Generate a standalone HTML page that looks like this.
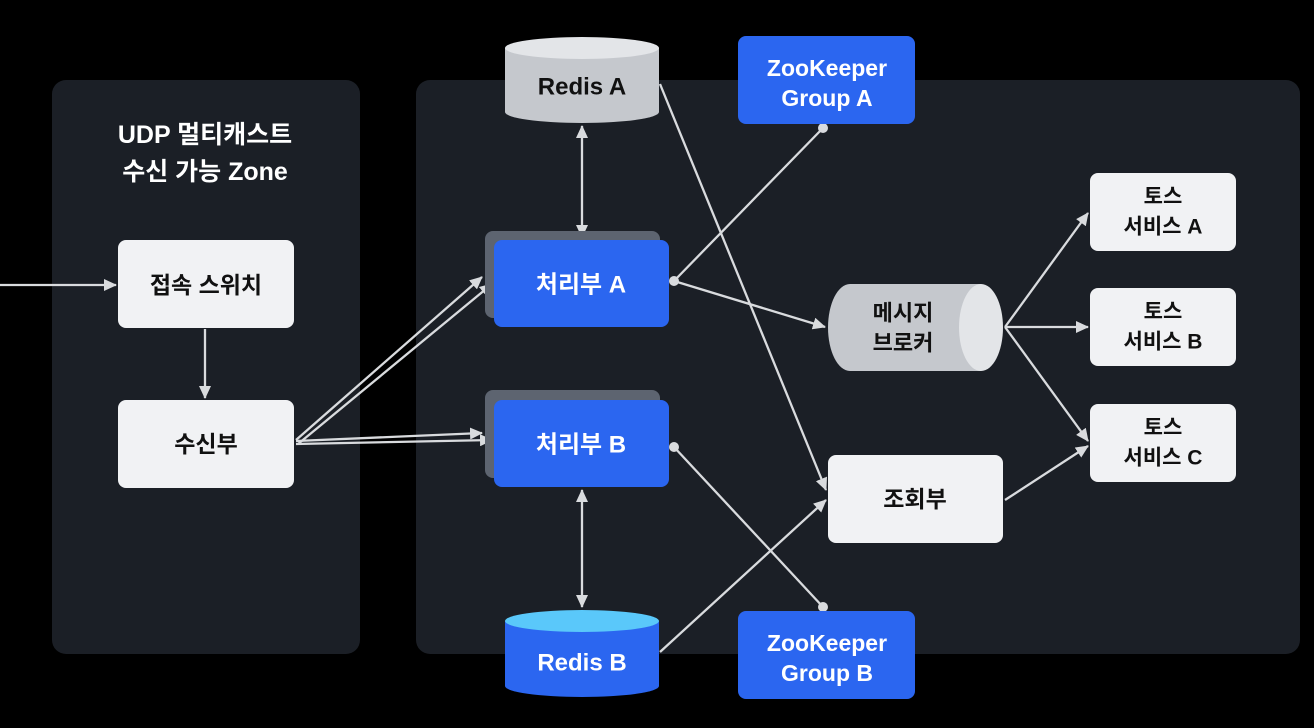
<!DOCTYPE html>
<html><head><meta charset="utf-8"><style>
html,body{margin:0;padding:0;background:#000;}
svg{display:block;}
text{font-family:"Liberation Sans","Noto Sans CJK KR",sans-serif;font-weight:bold;text-anchor:middle;dominant-baseline:central;}
</style></head><body>
<svg width="1314" height="728" viewBox="0 0 1314 728">
<defs>
<marker id="ar" markerWidth="13" markerHeight="12" refX="12" refY="6" orient="auto" markerUnits="userSpaceOnUse"><path d="M0,0 L13,6 L0,12 z" fill="#d9dbde"/></marker>
<marker id="as" markerWidth="13" markerHeight="12" refX="1" refY="6" orient="auto" markerUnits="userSpaceOnUse"><path d="M13,0 L0,6 L13,12 z" fill="#d9dbde"/></marker>
</defs>
<rect width="1314" height="728" fill="#000"/>
<rect x="52" y="80" width="308" height="574" rx="14" fill="#1b1f26"/>
<rect x="416" y="80" width="884" height="574" rx="14" fill="#1b1f26"/>
<text x="205" y="135" fill="#fff" font-size="25">UDP 멀티캐스트</text>
<text x="205" y="172" fill="#fff" font-size="25">수신 가능 Zone</text>

<g stroke="#d9dbde" stroke-width="2.3" fill="none">
<line x1="0" y1="285" x2="116" y2="285" marker-end="url(#ar)"/>
<line x1="205" y1="329" x2="205" y2="398" marker-end="url(#ar)"/>
<line x1="296" y1="440" x2="482" y2="277" marker-end="url(#ar)"/>
<line x1="298" y1="444" x2="492" y2="284" marker-end="url(#ar)"/>
<line x1="296" y1="441" x2="482" y2="433" marker-end="url(#ar)"/>
<line x1="296" y1="444" x2="492" y2="440" marker-end="url(#ar)"/>
<line x1="582" y1="126" x2="582" y2="237" marker-start="url(#as)" marker-end="url(#ar)"/>
<line x1="582" y1="490" x2="582" y2="607" marker-start="url(#as)" marker-end="url(#ar)"/>
<line x1="674" y1="281" x2="823" y2="128"/>
<line x1="674" y1="281" x2="825" y2="327" marker-end="url(#ar)"/>
<line x1="660" y1="84" x2="826" y2="490" marker-end="url(#ar)"/>
<line x1="674" y1="447" x2="823" y2="607"/>
<line x1="660" y1="652" x2="826" y2="500" marker-end="url(#ar)"/>
<line x1="1005" y1="327" x2="1088" y2="213" marker-end="url(#ar)"/>
<line x1="1005" y1="327" x2="1088" y2="327" marker-end="url(#ar)"/>
<line x1="1005" y1="327" x2="1088" y2="441" marker-end="url(#ar)"/>
<line x1="1005" y1="500" x2="1088" y2="446" marker-end="url(#ar)"/>
</g>

<rect x="118" y="240" width="176" height="88" rx="8" fill="#f1f2f4"/>
<text x="206" y="285" fill="#111" font-size="23">접속 스위치</text>
<rect x="118" y="400" width="176" height="88" rx="8" fill="#f1f2f4"/>
<text x="206" y="444" fill="#111" font-size="23">수신부</text>

<rect x="485" y="231" width="175" height="87" rx="8" fill="#5d6470"/>
<rect x="494" y="240" width="175" height="87" rx="8" fill="#2b66f0"/>
<text x="581" y="285" fill="#fff" font-size="24">처리부 A</text>
<rect x="485" y="390" width="175" height="88" rx="8" fill="#5d6470"/>
<rect x="494" y="400" width="175" height="87" rx="8" fill="#2b66f0"/>
<text x="581" y="445" fill="#fff" font-size="24">처리부 B</text>
<circle cx="674" cy="281" r="5" fill="#d9dbde"/>
<circle cx="674" cy="447" r="5" fill="#d9dbde"/>
<circle cx="823" cy="128" r="5" fill="#d9dbde"/>
<circle cx="823" cy="607" r="5" fill="#d9dbde"/>

<path d="M505,48 L505,112 A77,11 0 0 0 659,112 L659,48 Z" fill="#c5c8cd"/>
<ellipse cx="582" cy="48" rx="77" ry="11" fill="#e3e5e8"/>
<text x="582" y="87" fill="#111" font-size="24">Redis A</text>
<path d="M505,621 L505,686 A77,11 0 0 0 659,686 L659,621 Z" fill="#2b66f0"/>
<ellipse cx="582" cy="621" rx="77" ry="11" fill="#5ac8fa"/>
<text x="582" y="663" fill="#fff" font-size="24">Redis B</text>

<rect x="738" y="36" width="177" height="88" rx="8" fill="#2b66f0"/>
<text x="827" y="68" fill="#fff" font-size="23">ZooKeeper</text>
<text x="827" y="98" fill="#fff" font-size="23">Group A</text>
<rect x="738" y="611" width="177" height="88" rx="8" fill="#2b66f0"/>
<text x="827" y="643" fill="#fff" font-size="23">ZooKeeper</text>
<text x="827" y="673" fill="#fff" font-size="23">Group B</text>

<path d="M850,284 L981,284 L981,371 L850,371 A22,43.5 0 0 1 850,284 Z" fill="#c5c8cd"/>
<ellipse cx="981" cy="327.5" rx="22" ry="43.5" fill="#e3e5e8"/>
<text x="903" y="313" fill="#111" font-size="22">메시지</text>
<text x="903" y="343" fill="#111" font-size="22">브로커</text>

<rect x="828" y="455" width="175" height="88" rx="8" fill="#f1f2f4"/>
<text x="915" y="499" fill="#111" font-size="23">조회부</text>

<rect x="1090" y="173" width="146" height="78" rx="8" fill="#f1f2f4"/>
<text x="1163" y="197" fill="#111" font-size="21">토스</text>
<text x="1163" y="227" fill="#111" font-size="21">서비스 A</text>
<rect x="1090" y="288" width="146" height="78" rx="8" fill="#f1f2f4"/>
<text x="1163" y="312" fill="#111" font-size="21">토스</text>
<text x="1163" y="342" fill="#111" font-size="21">서비스 B</text>
<rect x="1090" y="404" width="146" height="78" rx="8" fill="#f1f2f4"/>
<text x="1163" y="428" fill="#111" font-size="21">토스</text>
<text x="1163" y="458" fill="#111" font-size="21">서비스 C</text>
</svg>
</body></html>
